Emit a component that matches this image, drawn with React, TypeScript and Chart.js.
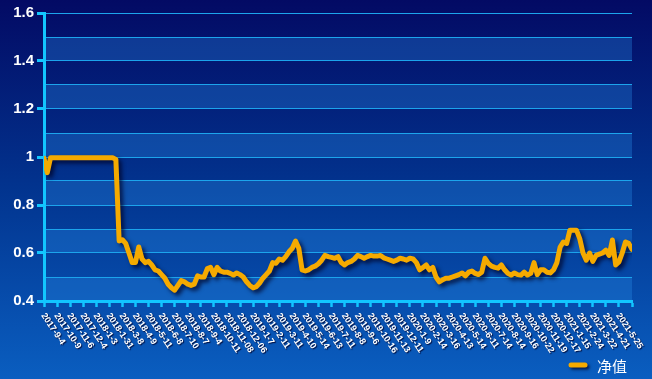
import React, { useEffect, useRef } from "react";
import { Chart, registerables } from "chart.js";

Chart.register(...registerables);

// Tick labels (one every STEP data points)
const tickLabels = [
  "2017-9-4", "2017-10-9", "2017-11-6", "2017-12-4", "2018-1-3", "2018-1-31", "2018-3-8", "2018-4-9",
  "2018-5-11", "2018-6-8", "2018-7-10", "2018-8-7", "2018-9-4", "2018-10-11", "2018-11-08", "2018-12-06",
  "2019-1-7", "2019-2-11", "2019-3-11", "2019-4-10", "2019-5-14", "2019-6-13", "2019-7-11", "2019-8-8",
  "2019-9-6", "2019-10-16", "2019-11-13", "2019-12-11", "2020-1-9", "2020-2-14", "2020-3-16", "2020-4-13",
  "2020-5-14", "2020-6-11", "2020-7-14", "2020-8-14", "2020-9-16", "2020-10-22", "2020-11-19", "2020-12-17",
  "2021-1-15", "2021-2-24", "2021-3-22", "2021-4-21", "2021-5-25",
];
const STEP = 4;

const seriesName = "净值";

// Net value, sampled 4 points per tick interval
const navValues = [
  0.995, 0.935, 0.997, 0.997, 0.997, 0.997, 0.997, 0.997, 0.997, 0.997,
  0.997, 0.997, 0.997, 0.997, 0.997, 0.997, 0.997, 0.997, 0.997, 0.997,
  0.997, 0.997, 0.99, 0.65, 0.655, 0.64, 0.6, 0.56, 0.56, 0.625,
  0.575, 0.56, 0.565, 0.55, 0.53, 0.525, 0.51, 0.495, 0.47, 0.455,
  0.445, 0.465, 0.485, 0.48, 0.47, 0.465, 0.47, 0.505, 0.5, 0.5,
  0.535, 0.54, 0.51, 0.54, 0.525, 0.52, 0.52, 0.515, 0.508, 0.517,
  0.51, 0.5, 0.48, 0.465, 0.455, 0.46, 0.475, 0.495, 0.51, 0.525,
  0.56, 0.557, 0.575, 0.57, 0.585, 0.605, 0.62, 0.65, 0.62, 0.53,
  0.525, 0.53, 0.54, 0.545, 0.555, 0.57, 0.59, 0.585, 0.582, 0.578,
  0.585, 0.56, 0.55, 0.56, 0.565, 0.575, 0.59, 0.585, 0.578, 0.585,
  0.59, 0.587, 0.587, 0.59, 0.58, 0.575, 0.57, 0.565, 0.57, 0.578,
  0.575, 0.57, 0.578, 0.575, 0.56, 0.53, 0.54, 0.55, 0.53, 0.54,
  0.5, 0.48, 0.488, 0.495, 0.495, 0.5, 0.505, 0.51, 0.517, 0.505,
  0.52, 0.525, 0.515, 0.51, 0.52, 0.578, 0.557, 0.545, 0.54, 0.537,
  0.55, 0.53, 0.515, 0.508, 0.517, 0.51, 0.508, 0.52, 0.508, 0.515,
  0.56, 0.51, 0.53, 0.53, 0.52, 0.517, 0.53, 0.56, 0.625, 0.646,
  0.64, 0.695, 0.695, 0.695, 0.66, 0.6, 0.57, 0.6, 0.565, 0.59,
  0.595, 0.6, 0.612, 0.59, 0.654, 0.55, 0.563, 0.6, 0.646, 0.64,
  0.615,
];

const Y_MIN = 0.4;
const Y_MAX = 1.6;
const Y_STEP = 0.1;

const LINE_COLOR = "#f5aa00";
const AXIS_COLOR = "#12c6ff";
const GRID_COLOR = "#1ca4ec";

const bgPlugin = {
  id: "bgBands",
  beforeDraw(chart: any) {
    const { ctx, width, height, chartArea, scales } = chart;
    ctx.save();
    const g = ctx.createLinearGradient(0, 0, 0, height);
    g.addColorStop(0, "#030a64");
    g.addColorStop(0.5, "#02348f");
    g.addColorStop(1, "#0a5ec0");
    ctx.fillStyle = g;
    ctx.fillRect(0, 0, width, height);
    const y = scales.y;
    const ticks = y.ticks;
    ctx.fillStyle = "rgba(40,140,230,0.33)";
    for (let i = 0; i + 1 < ticks.length; i += 2) {
      const bot = y.getPixelForValue(ticks[i].value);
      const top = y.getPixelForValue(ticks[i + 1].value);
      ctx.fillRect(chartArea.left, top, chartArea.right - chartArea.left, bot - top);
    }
    ctx.restore();
  },
};

const shadowPlugin = {
  id: "lineShadow",
  beforeDatasetsDraw(chart: any) {
    const c = chart.ctx;
    c.save();
    c.shadowColor = "rgba(0,0,35,0.75)";
    c.shadowBlur = 4;
    c.shadowOffsetX = 3;
    c.shadowOffsetY = 3;
  },
  afterDatasetsDraw(chart: any) {
    chart.ctx.restore();
  },
};

const labelsPlugin = {
  id: "xLabelsLegend",
  afterDraw(chart: any) {
    const { ctx, scales } = chart;
    const x = scales.x;
    ctx.save();
    ctx.font = "bold 9px 'Liberation Sans', Arial, sans-serif";
    ctx.fillStyle = "#ffffff";
    ctx.shadowColor = "rgba(0,0,40,0.85)";
    ctx.shadowBlur = 1;
    ctx.shadowOffsetX = 1;
    ctx.shadowOffsetY = 1;
    tickLabels.forEach((t, i) => {
      const px = x.getPixelForValue(i * STEP);
      ctx.save();
      ctx.translate(px - 1, 314);
      ctx.rotate((56 * Math.PI) / 180);
      ctx.textAlign = "left";
      ctx.textBaseline = "middle";
      ctx.fillText(t, 0, 0);
      ctx.restore();
    });
    ctx.restore();

    // legend
    const ds = chart.data.datasets[0];
    ctx.save();
    ctx.shadowColor = "rgba(0,0,35,0.75)";
    ctx.shadowBlur = 3;
    ctx.shadowOffsetX = 2;
    ctx.shadowOffsetY = 2;
    ctx.strokeStyle = ds.borderColor;
    ctx.lineWidth = 5;
    ctx.lineCap = "round";
    ctx.beginPath();
    ctx.moveTo(571, 365);
    ctx.lineTo(585, 365);
    ctx.stroke();
    ctx.shadowColor = "rgba(0,0,0,0)";
    ctx.fillStyle = "#ffffff";
    ctx.font = "15px 'Noto Sans CJK SC', sans-serif";
    ctx.textAlign = "left";
    ctx.textBaseline = "middle";
    ctx.fillText(ds.label, 597, 366);
    ctx.restore();
  },
};

export default function App() {
  const ref = useRef<HTMLCanvasElement>(null);
  useEffect(() => {
    const chart = new Chart(ref.current as HTMLCanvasElement, {
      type: "line",
      data: {
        datasets: [
          {
            label: seriesName,
            data: navValues.map((v, i) => ({ x: i, y: v })),
            borderColor: LINE_COLOR,
            backgroundColor: LINE_COLOR,
            borderWidth: 5,
            borderJoinStyle: "round",
            borderCapStyle: "round",
            pointRadius: 0,
            tension: 0,
            fill: false,
          },
        ],
      },
      options: {
        animation: false,
        responsive: false,
        events: [],
        layout: { padding: { top: 13, right: 20, bottom: 72, left: 0 } },
        plugins: { legend: { display: false }, tooltip: { enabled: false } },
        scales: {
          x: {
            type: "linear",
            min: 0,
            max: navValues.length - 1,
            offset: false,
            ticks: { display: false, stepSize: STEP },
            grid: {
              drawOnChartArea: false,
              drawTicks: true,
              tickLength: 6,
              tickWidth: 2.5,
              tickColor: AXIS_COLOR,
            },
            border: { color: AXIS_COLOR, width: 3 },
          },
          y: {
            min: Y_MIN,
            max: Y_MAX,
            afterFit: (s: any) => {
              s.width = 44;
            },
            ticks: {
              stepSize: Y_STEP,
              color: "#ffffff",
              padding: 3,
              font: { family: "'Liberation Sans', Arial, sans-serif", size: 15, weight: "bold" },
              callback: (v: any) => {
                const r = Math.round(Number(v) * 10);
                return r % 2 === 0 ? String(r / 10) : "";
              },
            },
            grid: {
              color: GRID_COLOR,
              lineWidth: 1,
              drawTicks: true,
              tickLength: 7,
              tickWidth: 3,
              tickColor: (c: any) =>
                c.tick && Math.round(c.tick.value * 10) % 2 === 0 ? AXIS_COLOR : "rgba(0,0,0,0)",
            },
            border: { color: AXIS_COLOR, width: 3 },
          },
        },
      },
      plugins: [bgPlugin, shadowPlugin, labelsPlugin],
    } as any);
    return () => chart.destroy();
  }, []);
  return (
    <div style={{ position: "fixed", left: 0, top: 0, width: 652, height: 379 }}>
      <canvas ref={ref} width={652} height={379} style={{ display: "block", width: 652, height: 379 }} />
    </div>
  );
}
